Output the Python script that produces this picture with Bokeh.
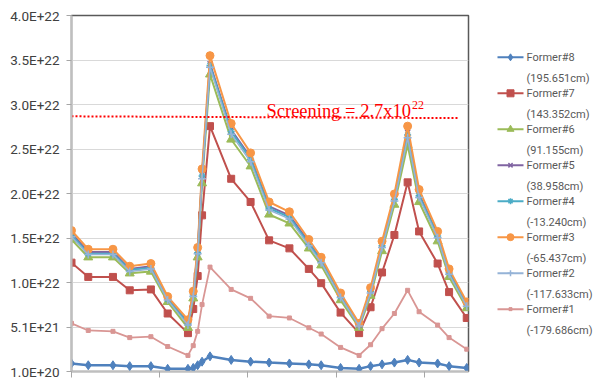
from bokeh.plotting import figure
from bokeh.models import Range1d, FixedTicker, Label, ColumnDataSource
from bokeh.layouts import row
from bokeh.core.properties import value
from bokeh.embed import file_html
from bokeh.resources import INLINE

# Measurement positions along the axis (cm)
x_pos = [0, 19, 47, 66, 90, 109, 132, 138, 143, 148, 157, 181, 203, 224, 247,
         269, 283, 305, 326, 339, 352, 366, 381, 394, 415, 428, 448]

# Values per former, in units of 1e22
former8 = [0.10, 0.08, 0.08, 0.07, 0.07, 0.04, 0.04, 0.05, 0.08, 0.12, 0.18, 0.14, 0.12, 0.11,
           0.10, 0.09, 0.08, 0.05, 0.04, 0.07, 0.09, 0.11, 0.14, 0.11, 0.10, 0.07, 0.05]
former7 = [1.23, 1.07, 1.07, 0.92, 0.93, 0.66, 0.44, 0.71, 1.08, 1.76, 2.76, 2.17, 1.91, 1.48,
           1.39, 1.16, 1.00, 0.67, 0.44, 0.73, 1.12, 1.54, 2.13, 1.58, 1.22, 0.90, 0.61]
former6 = [1.49, 1.29, 1.29, 1.11, 1.13, 0.79, 0.50, 0.83, 1.29, 2.12, 3.34, 2.61, 2.31, 1.77,
           1.67, 1.39, 1.20, 0.81, 0.50, 0.86, 1.36, 1.88, 2.55, 1.91, 1.47, 1.07, 0.72]
former5 = [1.56, 1.35, 1.35, 1.16, 1.19, 0.83, 0.56, 0.88, 1.36, 2.22, 3.46, 2.72, 2.41, 1.86,
           1.76, 1.46, 1.26, 0.86, 0.53, 0.92, 1.43, 1.96, 2.69, 2.00, 1.54, 1.13, 0.77]
former4 = [1.54, 1.33, 1.33, 1.15, 1.17, 0.82, 0.55, 0.87, 1.34, 2.20, 3.44, 2.70, 2.39, 1.84,
           1.74, 1.44, 1.25, 0.85, 0.53, 0.91, 1.42, 1.94, 2.66, 1.98, 1.53, 1.12, 0.76]
former3 = [1.59, 1.38, 1.38, 1.19, 1.22, 0.85, 0.59, 0.91, 1.40, 2.28, 3.55, 2.79, 2.46, 1.91,
           1.80, 1.49, 1.29, 0.89, 0.55, 0.95, 1.47, 2.00, 2.76, 2.05, 1.58, 1.16, 0.79]
former2 = [1.52, 1.32, 1.32, 1.13, 1.16, 0.81, 0.53, 0.85, 1.33, 2.17, 3.42, 2.67, 2.36, 1.82,
           1.72, 1.42, 1.23, 0.84, 0.52, 0.89, 1.40, 1.92, 2.63, 1.96, 1.51, 1.10, 0.74]
former1 = [0.55, 0.47, 0.46, 0.39, 0.40, 0.29, 0.19, 0.30, 0.46, 0.76, 1.18, 0.93, 0.83, 0.63,
           0.61, 0.50, 0.43, 0.28, 0.19, 0.31, 0.49, 0.66, 0.92, 0.68, 0.53, 0.39, 0.26]

series_names = ["Former#8", "Former#7", "Former#6", "Former#5",
                "Former#4", "Former#3", "Former#2", "Former#1"]
series_positions = ["(195.651cm)", "(143.352cm)", "(91.155cm)", "(38.958cm)",
                    "(-13.240cm)", "(-65.437cm)", "(-117.633cm)", "(-179.686cm)"]
series_values = [former8, former7, former6, former5, former4, former3, former2, former1]

# Y axis: 1e20 .. 4e22 split into eight equal steps
y_tick_labels = ["1.0E+20", "5.1E+21", "1.0E+22", "1.5E+22", "2.0E+22",
                 "2.5E+22", "3.0E+22", "3.5E+22", "4.0E+22"]
y_min, y_max = 0.01, 4.0

# Screening threshold line (1e22 units)
screening_x = [0, 438]
screening_y = [2.87, 2.85]

colors = ["#4F81BD", "#C0504D", "#9BBB59", "#8064A2", "#4BACC6", "#F79646", "#95B3D7", "#D99694"]
markers = ["diamond", "square", "triangle", "x", "asterisk", "circle", "cross", "square"]
msizes = [9, 7, 9, 7, 7, 8, 8, 4]
lwidths = [2.5, 2, 2, 2, 2, 2, 1.5, 1.8]

FONT = "Roboto"
TEXT_COLOR = "#404040"
LEGEND_COLOR = "#595959"

p = figure(width=470, height=383, output_backend="svg", toolbar_location=None,
           x_range=Range1d(0, 450), y_range=Range1d(y_min, y_max),
           min_border_left=71, min_border_right=2, min_border_top=15, min_border_bottom=12)
p.background_fill_color = "white"
p.border_fill_color = "white"
p.outline_line_color = "#595959"
p.outline_line_width = 1.5

step = (y_max - y_min) / 8
y_ticks = [y_min + i * step for i in range(9)]
p.yaxis.ticker = FixedTicker(ticks=y_ticks)
p.yaxis.major_label_overrides = {t: lab for t, lab in zip(y_ticks, y_tick_labels)}
p.yaxis.minor_tick_line_color = None
p.yaxis.major_tick_out = 5
p.yaxis.major_tick_in = 0
p.yaxis.major_tick_line_color = "#A6A6A6"
p.yaxis.axis_line_color = "#BFBFBF"
p.yaxis.axis_line_width = 2
p.yaxis.major_label_standoff = 7
p.yaxis.major_label_text_font = FONT
p.yaxis.major_label_text_font_size = "13.5px"
p.yaxis.major_label_text_color = TEXT_COLOR

# Bottom axis: tick marks only, no labels
p.xaxis.ticker = FixedTicker(ticks=[0, 100, 200, 300, 400])
p.xaxis.minor_tick_line_color = None
p.xaxis.major_tick_out = 6
p.xaxis.major_tick_in = 0
p.xaxis.major_tick_line_color = "#A6A6A6"
p.xaxis.axis_line_color = "#BFBFBF"
p.xaxis.axis_line_width = 1.5
p.xaxis.major_label_text_font_size = "1px"
p.xaxis.major_label_overrides = {0: "", 100: "", 200: "", 300: "", 400: ""}
p.xaxis.major_label_standoff = 0

p.xgrid.grid_line_color = None
p.ygrid.grid_line_color = "#D9D9D9"
p.ygrid.grid_line_width = 1

for vals, c, m, ms, lw in zip(series_values, colors, markers, msizes, lwidths):
    src = ColumnDataSource(dict(x=x_pos, y=vals))
    p.line("x", "y", source=src, line_color=c, line_width=lw)
    if m in ("x", "asterisk", "cross"):
        p.scatter("x", "y", source=src, marker=m, size=ms, line_color=c, line_width=1.5)
    else:
        p.scatter("x", "y", source=src, marker=m, size=ms, fill_color=c, line_color=c)

p.line(screening_x, screening_y, line_color="#FF0000", line_width=2, line_dash="2 2")
p.add_layout(Label(x=221, y=2.93, text="Screening = 2.7x10", text_font="Liberation Serif",
                   text_font_size="18.5px", text_color="#FF0000", text_baseline="middle"))
p.add_layout(Label(x=386, y=3.00, text="22", text_font="Liberation Serif",
                   text_font_size="12px", text_color="#FF0000", text_baseline="middle"))

# Legend panel, in pixel coordinates of the page
lg = figure(width=124, height=383, output_backend="svg", toolbar_location=None,
            x_range=Range1d(470, 594), y_range=Range1d(383, 0),
            x_axis_type=None, y_axis_type=None, min_border=0)
lg.outline_line_color = None
lg.background_fill_color = "white"
lg.border_fill_color = "white"
lg.xgrid.visible = False
lg.ygrid.visible = False

leg_msizes = [7, 7, 7, 6, 6, 7, 6, 3]
for k, (name, pos, c, m, ms) in enumerate(zip(series_names, series_positions, colors, markers, leg_msizes)):
    ly = 45 + k * 38.7
    lg.segment(x0=[497], y0=[ly], x1=[523], y1=[ly], line_color=c, line_width=2)
    if m in ("x", "asterisk", "cross"):
        lg.scatter([510], [ly], marker=m, size=ms, line_color=c, line_width=1.5)
    else:
        lg.scatter([510], [ly], marker=m, size=ms, fill_color=c, line_color=c)
    lg.text([526], [ly], text=[name], text_font=value(FONT), text_font_size="11px",
            text_color=LEGEND_COLOR, text_baseline="middle", text_align="left")
    lg.text([526], [ly + 22.5], text=[pos], text_font=value(FONT), text_font_size="11px",
            text_color=LEGEND_COLOR, text_baseline="middle", text_align="left")

layout = row(p, lg, spacing=0)
open("out.html", "w").write(file_html(layout, INLINE))
